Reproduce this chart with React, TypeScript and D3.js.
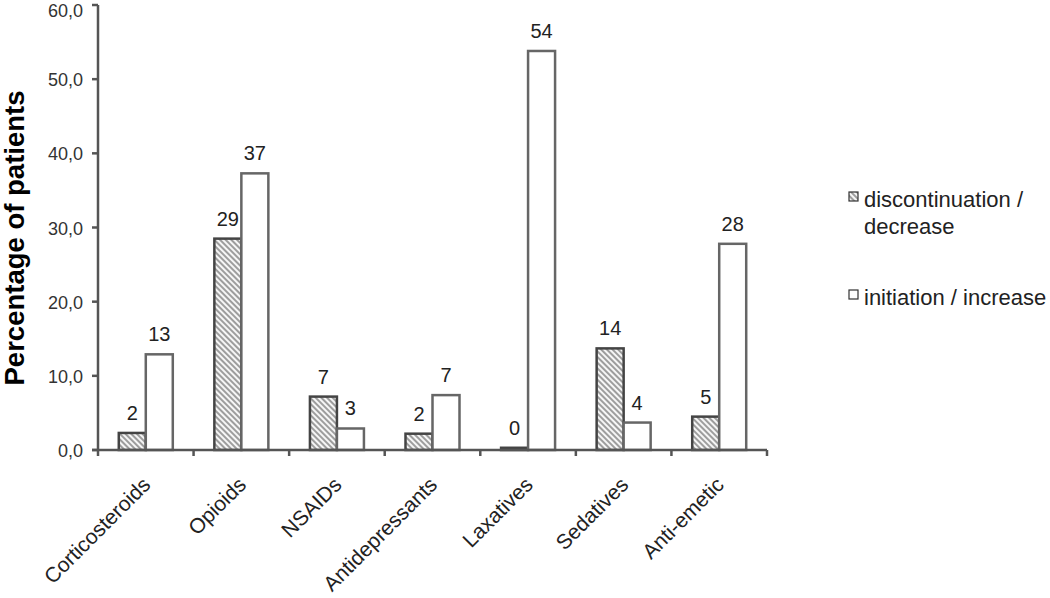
import React from "react";
import * as d3 from "d3";

const categories = ["Corticosteroids", "Opioids", "NSAIDs", "Antidepressants", "Laxatives", "Sedatives", "Anti-emetic"];
const discontinuation = [2.3, 28.5, 7.2, 2.2, 0.3, 13.7, 4.5];
const initiation = [12.9, 37.3, 2.9, 7.4, 53.8, 3.7, 27.8];
const discLabels = ["2", "29", "7", "2", "0", "14", "5"];
const initLabels = ["13", "37", "3", "7", "54", "4", "28"];
const yTicks = [0, 10, 20, 30, 40, 50, 60];
const seriesNames = ["discontinuation /", "decrease", "initiation / increase"];

export default function App() {
  const W = 1050, H = 598;
  const left = 98, right = 767, top = 5, bottom = 450;
  const x = d3.scaleBand<string>().domain(categories).range([left, right]).paddingInner(0).paddingOuter(0);
  const y = d3.scaleLinear().domain([0, 60]).range([bottom, top]);
  const bw = 27;
  const font = "Arial, 'Liberation Sans', sans-serif";
  const stroke = "#555";
  return (
    <svg width={W} height={H} style={{ position: "absolute", left: 0, top: 0, background: "#fff" }} fontFamily={font}>
      <defs>
        <pattern id="hatch" patternUnits="userSpaceOnUse" width={4} height={4} patternTransform="rotate(-45)">
          <rect width={4} height={4} fill="#f6f6f6" />
          <line x1={0} y1={0} x2={0} y2={4} stroke="#555" strokeWidth={1.1} transform="translate(2,0)" />
        </pattern>
      </defs>
      {/* bars */}
      {categories.map((c, i) => {
        const cx = (x(c) as number) + x.bandwidth() / 2;
        const x0 = cx - bw;
        const x1 = cx;
        return (
          <g key={c}>
            <rect x={x0} y={y(discontinuation[i])} width={bw} height={bottom - y(discontinuation[i])} fill="url(#hatch)" stroke="#444" strokeWidth={2.5} />
            <rect x={x1} y={y(initiation[i])} width={bw} height={bottom - y(initiation[i])} fill="#fff" stroke="#666" strokeWidth={2.5} />
            <text x={x0 + bw / 2} y={y(discontinuation[i]) - 13} textAnchor="middle" fontSize={20} fill="#222">{discLabels[i]}</text>
            <text x={x1 + bw / 2} y={y(initiation[i]) - 13} textAnchor="middle" fontSize={20} fill="#222">{initLabels[i]}</text>
          </g>
        );
      })}
      {/* y axis */}
      <line x1={left} y1={top} x2={left} y2={bottom} stroke={stroke} strokeWidth={2.5} />
      {yTicks.map((t) => (
        <g key={t}>
          <line x1={left - 6} x2={left} y1={y(t)} y2={y(t)} stroke={stroke} strokeWidth={2.5} />
          <text x={left - 15} y={Math.max(y(t) + 7, 17)} textAnchor="end" fontSize={18} fill="#333">{t.toFixed(1).replace(".", ",")}</text>
        </g>
      ))}
      {/* x axis */}
      <line x1={left - 6} y1={bottom} x2={right} y2={bottom} stroke={stroke} strokeWidth={2.5} />
      {[...categories.map((c) => x(c) as number), right].map((px, i) => (
        <line key={i} x1={px} x2={px} y1={bottom} y2={bottom + 6} stroke={stroke} strokeWidth={2.5} />
      ))}
      {categories.map((c) => {
        const cx = (x(c) as number) + x.bandwidth() / 2 + 6;
        const ty = bottom + 36;
        return (
          <text key={c} x={cx} y={ty} textAnchor="end" fontSize={21} fill="#222" transform={`rotate(-45, ${cx}, ${ty})`}>{c}</text>
        );
      })}
      {/* y title */}
      <text x={0} y={0} transform={`translate(24, 238) rotate(-90)`} textAnchor="middle" fontSize={27.5} fontWeight="bold" fill="#000">Percentage of patients</text>
      {/* legend */}
      <rect x={849} y={192} width={9} height={9} fill="url(#hatch)" stroke="#333" strokeWidth={1.2} />
      <text x={864} y={207} fontSize={22} fill="#222">{seriesNames[0]}</text>
      <text x={864} y={234} fontSize={22} fill="#222">{seriesNames[1]}</text>
      <rect x={849} y={290} width={9} height={9} fill="#fff" stroke="#333" strokeWidth={1.2} />
      <text x={864} y={305} fontSize={22} fill="#222">{seriesNames[2]}</text>
    </svg>
  );
}
